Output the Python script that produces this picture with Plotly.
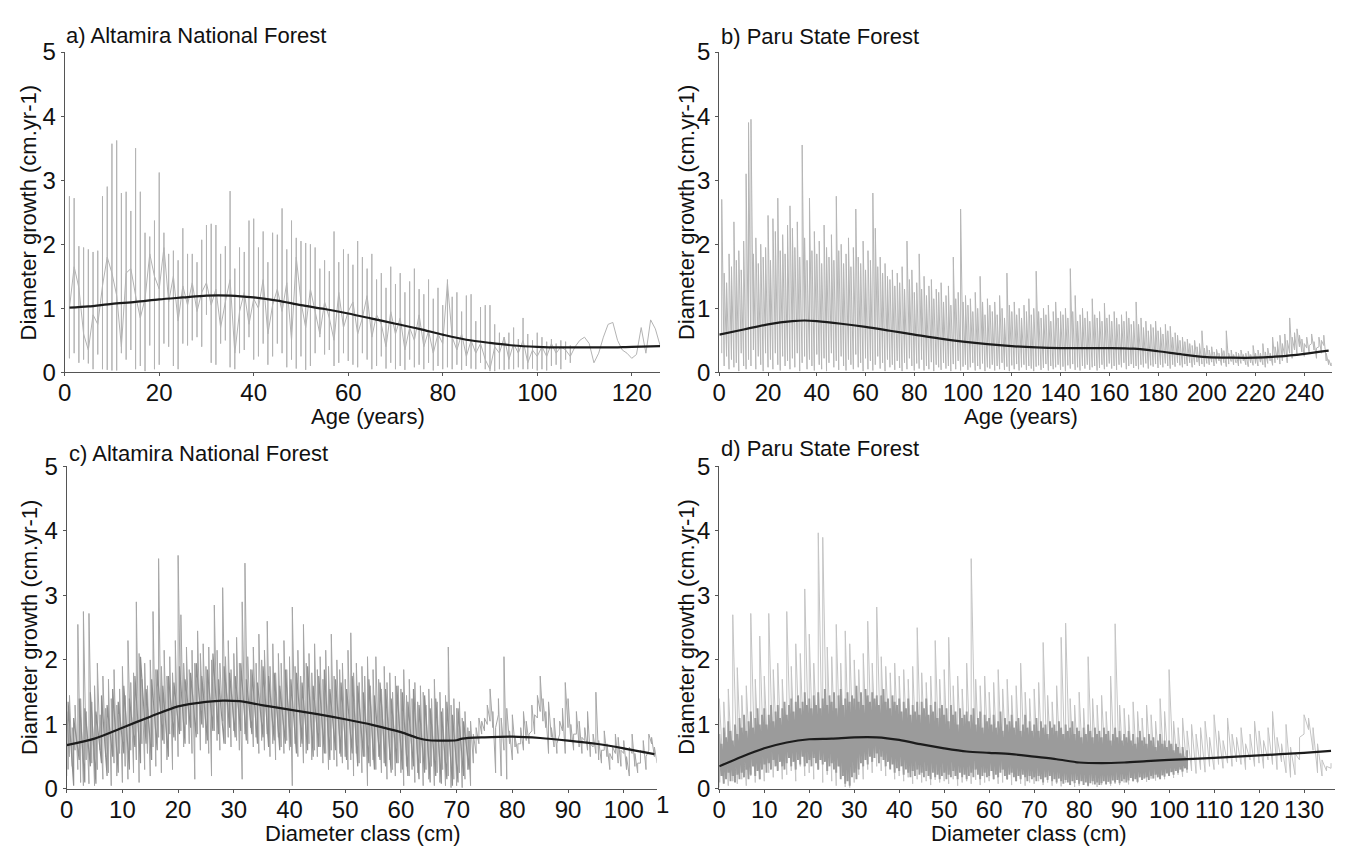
import plotly.graph_objects as go

FONT = "Liberation Sans, Arial, sans-serif"
W, H = 1348, 862

# ---------------- a) Altamira National Forest : growth by age ----------------
age_a = list(range(1, 127))
a_high = [
    2.75, 2.72, 1.97, 1.95, 1.92, 1.88, 1.90, 2.75, 2.90, 3.57,
    3.62, 2.80, 2.82, 2.52, 3.50, 2.82, 2.18, 2.12, 2.37, 3.12,
    2.18, 1.85, 1.90, 1.75, 2.25, 1.85, 1.85, 1.72, 2.07, 2.30,
    2.32, 2.30, 1.85, 1.97, 2.83, 1.62, 1.95, 1.88, 2.37, 2.40,
    1.95, 2.20, 1.72, 2.18, 2.15, 2.56, 1.92, 2.37, 2.10, 2.05,
    2.02, 2.00, 1.95, 1.62, 1.75, 1.58, 2.20, 1.72, 1.92, 1.85,
    1.68, 2.05, 1.80, 1.62, 1.85, 1.45, 1.55, 1.32, 1.65, 1.38,
    1.55, 1.25, 1.42, 1.62, 1.30, 1.22, 1.45, 1.15, 1.32, 1.05,
    1.45, 1.18, 1.25, 0.95, 1.20, 1.22, 0.80, 1.02, 1.05, 1.05,
    0.75, 0.62, 0.55, 0.62, 0.70, 0.52, 0.85, 0.60, 0.50, 0.62,
    0.55, 0.48, 0.52, 0.45, 0.50, 0.48, 0.42, 0.40, 0.50, 0.55,
    0.45, 0.15, 0.30, 0.55, 0.75, 0.78, 0.50, 0.35, 0.30, 0.22,
    0.28, 0.70, 0.30, 0.82, 0.68, 0.42,
]
a_low = [
    0.22, 0.30, 0.15, 0.20, 0.14, 0.05, 0.28, 0.05, 0.04, 0.03,
    0.03, 0.30, 0.20, 0.35, 0.05, 0.10, 0.02, 0.42, 0.05, 0.12,
    0.45, 0.40, 0.10, 0.05, 0.45, 0.42, 0.50, 0.55, 0.40, 0.90,
    0.15, 0.12, 0.45, 0.50, 0.08, 0.05, 0.30, 0.35, 0.55, 0.20,
    0.25, 0.45, 0.12, 0.25, 0.45, 0.30, 0.08, 0.20, 0.06, 0.25,
    0.04, 0.10, 0.30, 0.55, 0.28, 0.35, 0.10, 0.15, 0.30, 0.18,
    0.12, 0.08, 0.30, 0.20, 0.05, 0.10, 0.25, 0.06, 0.15, 0.05,
    0.10, 0.04, 0.20, 0.08, 0.12, 0.05, 0.15, 0.03, 0.10, 0.05,
    0.08, 0.05, 0.12, 0.04, 0.10, 0.06, 0.05, 0.15, 0.05, 0.02,
    0.02, 0.05, 0.04, 0.05, 0.05, 0.08, 0.05, 0.05, 0.06, 0.03,
    0.05, 0.03, 0.10, 0.12, 0.05, 0.20, 0.15, 0.40, 0.50, 0.55,
    0.45, 0.15, 0.30, 0.55, 0.75, 0.78, 0.50, 0.35, 0.30, 0.22,
    0.28, 0.70, 0.30, 0.82, 0.68, 0.42,
]
a_mid = [
    1.00, 1.65, 1.32, 0.60, 0.35, 0.90, 0.75, 1.35, 1.80, 1.55,
    1.20, 0.40, 1.55, 1.62, 1.20, 0.85, 1.15, 1.85, 1.50, 1.30,
    1.95, 1.10, 1.50, 0.80, 1.35, 1.05, 1.40, 0.95, 1.25, 1.40,
    1.05, 1.30, 0.70, 1.10, 1.45, 0.30, 0.95, 1.25, 0.75, 1.15,
    1.00, 1.45, 0.60, 1.05, 1.30, 0.95, 1.40, 0.50, 1.80, 1.10,
    0.70, 1.30, 0.95, 0.60, 1.10, 0.85, 0.50, 1.25, 0.70, 0.95,
    1.10, 0.60, 0.85, 1.20, 0.55, 0.90, 0.75, 0.40, 0.95, 0.60,
    0.85, 0.35, 0.70, 0.50, 0.90, 0.40, 0.65, 0.30, 0.60, 0.45,
    1.40, 0.55, 0.35, 0.60, 0.25, 0.50, 0.30, 0.45, 0.20, 0.05,
    0.40, 0.30, 0.55, 0.20, 0.45, 0.30, 0.50, 0.15, 0.35, 0.25,
    0.40, 0.25, 0.45, 0.30, 0.40, 0.35, 0.25, 0.40, 0.50, 0.55,
    0.45, 0.15, 0.30, 0.55, 0.75, 0.78, 0.50, 0.35, 0.30, 0.22,
    0.28, 0.70, 0.30, 0.82, 0.68, 0.42,
]
a_trend_x = [1, 5, 10, 15, 20, 25, 30, 35, 40, 45, 50, 55, 60, 65, 70, 75,
             80, 85, 90, 95, 100, 105, 110, 115, 120, 126]
a_trend_y = [1.01, 1.03, 1.07, 1.10, 1.14, 1.17, 1.20, 1.20, 1.17, 1.12, 1.05,
             0.99, 0.92, 0.84, 0.76, 0.68, 0.59, 0.51, 0.46, 0.42, 0.40, 0.39,
             0.39, 0.39, 0.40, 0.41]

# ---------------- b) Paru State Forest : growth by age ----------------
age_b = list(range(1, 252))
b_high = [
    2.70, 1.55, 1.40, 1.85, 1.65, 2.35, 1.75, 1.90, 1.60, 2.05,
    3.10, 3.90, 3.95, 1.85, 2.10, 1.70, 2.00, 1.80, 1.95, 2.45,
    1.75, 2.40, 2.20, 2.72, 1.90, 2.15, 1.85, 2.30, 2.60, 2.25,
    1.95, 2.35, 1.80, 3.55, 2.10, 1.75, 2.72, 1.90, 2.20, 1.85,
    2.05, 1.70, 2.30, 1.95, 1.80, 2.15, 1.75, 2.75, 1.90, 2.00,
    1.70, 1.85, 2.10, 1.65, 1.95, 2.55, 1.80, 1.70, 2.05, 1.60,
    1.90, 1.75, 2.80, 2.25, 1.65, 1.80, 1.55, 1.70, 1.50, 1.45,
    1.60, 1.35, 1.55, 1.40, 1.65, 1.30, 2.05, 1.45, 1.60, 1.25,
    1.40, 1.85, 1.30, 1.50, 1.20, 1.35, 1.45, 1.15, 1.30, 1.25,
    1.40, 1.10, 1.20, 1.35, 1.05, 1.80, 1.15, 1.25, 2.55, 1.10,
    1.20, 1.05, 1.15, 0.95, 1.25, 1.00, 1.50, 1.10, 0.90, 1.15,
    1.05, 0.95, 1.10, 0.90, 1.20, 1.00, 0.85, 1.55, 1.05, 0.95,
    1.10, 0.90, 1.00, 0.85, 1.05, 0.95, 1.15, 0.90, 1.00, 1.58,
    0.95, 0.85, 1.00, 0.90, 1.05, 0.80, 0.95, 1.10, 0.85, 0.95,
    0.90, 1.00, 0.85, 1.62, 0.95, 1.20, 0.80, 0.90, 1.00, 0.85,
    0.95, 0.80, 1.15, 0.90, 0.85, 0.95, 0.80, 1.08, 0.85, 0.90,
    0.80, 0.95, 0.85, 0.75, 0.90, 0.80, 0.95, 0.85, 0.75, 0.80,
    1.10, 0.75, 0.85, 0.70, 0.80, 0.65, 0.75, 0.70, 0.80, 0.65,
    0.70, 0.60, 0.75, 0.65, 0.72, 0.55, 0.62, 0.58, 0.50, 0.55,
    0.48, 0.52, 0.45, 0.42, 0.50, 0.40, 0.45, 0.65, 0.38, 0.42,
    0.35, 0.40, 0.32, 0.36, 0.30, 0.38, 0.34, 0.65, 0.30, 0.35,
    0.28, 0.32, 0.30, 0.35, 0.28, 0.30, 0.33, 0.28, 0.42, 0.30,
    0.35, 0.30, 0.45, 0.32, 0.38, 0.30, 0.55, 0.40, 0.48, 0.58,
    0.45, 0.60, 0.50, 0.85, 0.55, 0.62, 0.68, 0.58, 0.52, 0.45,
    0.55, 0.42, 0.60, 0.48, 0.38, 0.55, 0.50, 0.58, 0.30, 0.20,
    0.15,
]
b_low = [
    0.30, 0.10, 0.25, 0.05, 0.20, 0.08, 0.15, 0.02, 0.30, 0.10,
    0.05, 0.20, 0.10, 0.35, 0.05, 0.25, 0.12, 0.02, 0.30, 0.08,
    0.20, 0.05, 0.30, 0.12, 0.03, 0.25, 0.10, 0.18, 0.05, 0.22,
    0.08, 0.30, 0.02, 0.15, 0.25, 0.05, 0.20, 0.10, 0.03, 0.28,
    0.12, 0.05, 0.22, 0.02, 0.15, 0.30, 0.08, 0.18, 0.04, 0.25,
    0.10, 0.03, 0.20, 0.12, 0.05, 0.28, 0.08, 0.15, 0.02, 0.22,
    0.05, 0.18, 0.03, 0.12, 0.25, 0.06, 0.15, 0.02, 0.20, 0.08,
    0.12, 0.04, 0.18, 0.07, 0.02, 0.15, 0.05, 0.22, 0.10, 0.03,
    0.14, 0.06, 0.20, 0.03, 0.10, 0.05, 0.16, 0.02, 0.12, 0.08,
    0.04, 0.15, 0.06, 0.10, 0.02, 0.13, 0.05, 0.18, 0.03, 0.09,
    0.12, 0.04, 0.08, 0.15, 0.03, 0.10, 0.05, 0.14, 0.02, 0.08,
    0.06, 0.12, 0.03, 0.10, 0.05, 0.15, 0.04, 0.09, 0.02, 0.11,
    0.05, 0.13, 0.03, 0.08, 0.12, 0.04, 0.10, 0.06, 0.02, 0.09,
    0.11, 0.04, 0.07, 0.13, 0.03, 0.10, 0.05, 0.08, 0.12, 0.04,
    0.09, 0.02, 0.11, 0.06, 0.13, 0.04, 0.08, 0.03, 0.10, 0.06,
    0.12, 0.04, 0.08, 0.10, 0.03, 0.07, 0.12, 0.05, 0.09, 0.14,
    0.06, 0.10, 0.04, 0.12, 0.08, 0.15, 0.05, 0.10, 0.13, 0.07,
    0.10, 0.05, 0.12, 0.08, 0.14, 0.06, 0.11, 0.09, 0.13, 0.07,
    0.12, 0.08, 0.14, 0.10, 0.06, 0.12, 0.09, 0.15, 0.11, 0.08,
    0.13, 0.10, 0.15, 0.08, 0.12, 0.16, 0.10, 0.13, 0.09, 0.14,
    0.12, 0.16, 0.10, 0.14, 0.18, 0.11, 0.15, 0.09, 0.13, 0.17,
    0.12, 0.15, 0.10, 0.14, 0.18, 0.12, 0.09, 0.15, 0.11, 0.14,
    0.10, 0.16, 0.12, 0.08, 0.14, 0.18, 0.11, 0.15, 0.20, 0.13,
    0.18, 0.25, 0.15, 0.30, 0.22, 0.35, 0.28, 0.40, 0.32, 0.25,
    0.38, 0.30, 0.45, 0.35, 0.22, 0.40, 0.30, 0.42, 0.18, 0.12,
    0.10,
]
b_trend_x = [0, 10, 20, 30, 35, 40, 50, 60, 70, 80, 90, 100, 110, 120, 130,
             140, 150, 160, 170, 180, 190, 200, 210, 220, 230, 240, 250]
b_trend_y = [0.59, 0.67, 0.75, 0.80, 0.81, 0.80, 0.76, 0.71, 0.65, 0.59, 0.53,
             0.48, 0.44, 0.41, 0.39, 0.38, 0.38, 0.38, 0.37, 0.33, 0.28, 0.24,
             0.23, 0.23, 0.25, 0.29, 0.34]

# ---------------- c) Altamira National Forest : growth by diameter class ----------------
diam_c = [i * 0.5 for i in range(213)]   # 0 ... 106 cm
c_high = [
    1.20, 1.45, 0.95, 1.30, 2.55, 1.40, 2.75, 1.20, 2.72, 1.35,
    1.60, 1.95, 1.15, 1.75, 1.25, 1.70, 1.40, 1.85, 1.30, 1.55,
    1.90, 1.45, 2.30, 1.65, 1.80, 2.90, 2.10, 1.70, 1.95, 1.60,
    2.00, 2.75, 1.85, 3.57, 1.90, 2.15, 1.75, 2.05, 1.80, 2.30,
    3.62, 2.70, 1.95, 2.20, 1.85, 2.15, 1.95, 2.45, 2.10, 2.25,
    1.90, 2.20, 2.00, 2.85, 2.15, 1.95, 3.12, 2.05, 2.30, 1.85,
    2.10, 2.35, 1.95, 2.90, 3.50, 2.05, 1.85, 2.20, 1.95, 2.40,
    2.00, 2.15, 2.60, 1.90, 2.25, 1.80, 2.10, 1.95, 2.30, 1.85,
    2.05, 2.82, 1.90, 2.15, 1.75, 2.55, 1.95, 2.10, 1.80, 2.25,
    1.85, 2.05, 1.70, 2.15, 1.90, 2.40, 1.75, 2.00, 1.85, 1.95,
    1.70, 2.15, 2.42, 1.80, 1.95, 1.65, 1.90, 1.75, 2.05, 1.60,
    1.85, 2.05, 1.70, 1.55, 1.90, 1.65, 1.80, 1.50, 1.75, 1.60,
    1.55, 1.85, 1.45, 1.70, 1.40, 1.65, 1.35, 1.60, 1.50, 1.30,
    1.55, 1.40, 1.70, 1.35, 1.50, 1.25, 1.45, 2.20, 1.30, 1.40,
    1.25, 1.35, 1.10, 1.20, 0.95, 1.05, 0.85, 0.95, 1.10, 1.05,
    1.10, 1.30, 1.55, 1.20, 0.95, 1.40, 1.10, 2.05, 1.25, 0.90,
    1.15, 0.80, 0.70, 0.95, 1.20, 1.05, 0.85, 1.30, 1.15, 1.45,
    1.75, 1.40, 1.20, 1.35, 0.95, 1.10, 0.70, 1.05, 1.25, 1.65,
    1.40, 1.00, 0.85, 1.20, 1.05, 0.80, 0.95, 1.20, 0.70, 0.85,
    1.50, 0.75, 0.60, 0.90, 0.70, 0.55, 0.65, 0.85, 0.80, 0.60,
    0.75, 0.50, 0.65, 0.85, 0.55, 0.40, 0.60, 0.75, 0.50, 0.85,
    0.80, 0.65, 0.45,
]
c_low = [
    0.20, 0.50, 0.35, 0.60, 0.30, 0.10, 0.05, 0.45, 0.08, 0.40,
    0.05, 0.30, 0.60, 0.15, 0.50, 0.25, 0.05, 0.40, 0.20, 0.55,
    0.10, 0.35, 0.15, 0.60, 0.25, 0.45, 0.10, 0.70, 0.30, 0.55,
    0.20, 0.65, 0.35, 0.80, 0.25, 0.70, 0.45, 0.85, 0.30, 0.75,
    0.50, 0.90, 0.65, 1.00, 0.70, 0.55, 0.15, 0.85, 0.60, 0.95,
    0.70, 0.55, 0.20, 0.90, 0.75, 0.60, 1.05, 0.70, 0.80, 0.65,
    0.90, 0.75, 0.60, 0.15, 0.85, 0.70, 0.95, 0.65, 0.80, 0.55,
    0.75, 0.60, 0.85, 0.50, 0.70, 0.45, 0.80, 0.65, 0.55, 0.75,
    0.60, 0.05, 0.70, 0.50, 0.65, 0.40, 0.55, 0.70, 0.45, 0.60,
    0.50, 0.65, 0.40, 0.55, 0.30, 0.60, 0.45, 0.35, 0.55, 0.40,
    0.50, 0.30, 0.45, 0.20, 0.55, 0.40, 0.25, 0.50, 0.05, 0.35,
    0.45, 0.30, 0.50, 0.25, 0.40, 0.15, 0.45, 0.30, 0.20, 0.40,
    0.25, 0.05, 0.35, 0.20, 0.30, 0.10, 0.25, 0.40, 0.05, 0.30,
    0.15, 0.35, 0.05, 0.25, 0.10, 0.30, 0.05, 0.20, 0.02, 0.15,
    0.05, 0.25, 0.02, 0.15, 0.30, 0.05, 0.40, 0.55, 0.70, 0.85,
    0.90, 1.00, 1.05, 0.95, 0.25, 1.15, 0.20, 0.60, 0.15, 0.70,
    0.45, 0.65, 0.55, 0.70, 0.60, 0.75, 0.70, 0.90, 0.85, 1.10,
    1.20, 1.05, 0.95, 0.55, 0.80, 0.65, 0.55, 0.85, 0.90, 0.55,
    0.95, 0.75, 0.60, 0.85, 0.65, 0.55, 0.75, 0.60, 0.50, 0.65,
    0.55, 0.45, 0.40, 0.60, 0.50, 0.30, 0.45, 0.55, 0.40, 0.35,
    0.55, 0.30, 0.20, 0.55, 0.35, 0.25, 0.40, 0.55, 0.30, 0.60,
    0.70, 0.50, 0.40,
]
# denser central band of the Altamira diameter series (0.25 ... 72.25 cm)
diam_c_core = [0.25 + i for i in range(73)]
c_core_high = [
    1.35, 1.10, 1.40, 1.25, 1.50, 1.20, 1.45, 1.30, 1.55, 1.35,
    1.60, 1.40, 1.75, 2.05, 1.55, 1.70, 1.85, 1.60, 1.75, 1.65,
    1.90, 1.70, 1.80, 1.95, 1.75, 1.85, 2.10, 1.70, 1.90, 1.80,
    1.75, 1.95, 1.70, 1.85, 1.65, 1.90, 1.75, 1.80, 1.60, 1.85,
    1.70, 1.80, 1.65, 1.90, 1.60, 1.75, 1.85, 1.55, 1.70, 1.65,
    1.55, 1.75, 1.60, 1.50, 1.70, 1.45, 1.65, 1.55, 1.40, 1.60,
    1.50, 1.35, 1.55, 1.30, 1.45, 1.25, 1.40, 1.20, 1.35, 1.15,
    1.25, 1.05, 0.90,
]
c_core_low = [
    0.30, 0.05, 0.45, 0.10, 0.35, 0.08, 0.40, 0.20, 0.50, 0.25,
    0.55, 0.30, 0.65, 0.40, 0.70, 0.45, 0.60, 0.75, 0.50, 0.80,
    0.85, 0.70, 0.95, 0.80, 1.00, 0.75, 0.90, 0.85, 0.70, 0.95,
    0.80, 0.90, 0.75, 0.85, 0.70, 0.80, 0.65, 0.75, 0.60, 0.70,
    0.65, 0.55, 0.70, 0.60, 0.50, 0.65, 0.55, 0.45, 0.60, 0.50,
    0.45, 0.55, 0.35, 0.50, 0.40, 0.30, 0.45, 0.35, 0.25, 0.40,
    0.30, 0.20, 0.35, 0.15, 0.25, 0.10, 0.20, 0.08, 0.15, 0.05,
    0.10, 0.20, 0.30,
]
c_trend_x = [0, 5, 10, 15, 20, 25, 28, 31, 35, 40, 45, 50, 55, 60, 63, 65,
             70, 71, 75, 80, 85, 90, 95, 100, 105.5]
c_trend_y = [0.68, 0.78, 0.95, 1.12, 1.28, 1.35, 1.37, 1.36, 1.30, 1.23, 1.16,
             1.08, 0.99, 0.88, 0.79, 0.755, 0.755, 0.78, 0.80, 0.81, 0.79,
             0.75, 0.70, 0.63, 0.54]

# ---------------- d) Paru State Forest : growth by diameter class ----------------
diam_d = list(range(137))                  # every 1 cm, full range
d_high = [
    1.40, 1.35, 1.55, 2.70, 1.88, 1.45, 1.60, 2.72, 1.70, 2.37,
    1.75, 2.72, 1.85, 1.95, 1.70, 2.75, 1.90, 2.25, 2.10, 3.10,
    2.40, 1.95, 3.97, 3.90, 2.20, 2.05, 2.55, 1.95, 2.45, 2.25,
    2.00, 1.85, 2.10, 2.60, 1.95, 2.82, 2.05, 1.90, 1.80, 1.95,
    1.75, 1.85, 1.70, 1.90, 2.50, 1.80, 1.65, 1.75, 2.30, 1.70,
    1.85, 2.35, 1.60, 1.75, 1.55, 1.95, 3.57, 1.70, 1.60, 1.75,
    1.50, 1.65, 1.85, 1.55, 1.70, 1.45, 1.60, 1.95, 1.50, 1.40,
    1.55, 1.65, 2.27, 1.45, 1.35, 1.60, 2.35, 2.57, 1.40, 1.30,
    1.50, 1.25, 2.05, 1.40, 1.30, 1.45, 1.20, 1.75, 2.56, 1.30,
    1.25, 1.15, 1.35, 1.20, 1.10, 1.30, 1.15, 1.05, 1.40, 1.20,
    1.85, 1.05, 0.95, 1.10, 0.90, 1.00, 0.85, 0.95, 1.05, 0.80,
    1.15, 0.90, 0.75, 1.10, 0.85, 0.80, 0.95, 0.70, 0.85, 1.05,
    0.90, 0.75, 0.95, 1.20, 0.80, 0.70, 1.00, 0.65, 0.55, 0.80,
    1.15, 1.10, 0.95, 0.70, 0.45, 0.35, 0.40,
]
d_low = [
    0.02, 0.10, 0.05, 0.12, 0.08, 0.15, 0.05, 0.20, 0.10, 0.15,
    0.12, 0.25, 0.18, 0.30, 0.15, 0.22, 0.28, 0.12, 0.35, 0.20,
    0.25, 0.15, 0.30, 0.10, 0.22, 0.12, 0.05, 0.18, 0.03, 0.02,
    0.10, 0.22, 0.15, 0.30, 0.25, 0.35, 0.28, 0.20, 0.32, 0.15,
    0.20, 0.12, 0.18, 0.08, 0.15, 0.10, 0.12, 0.06, 0.14, 0.10,
    0.12, 0.08, 0.15, 0.05, 0.10, 0.12, 0.08, 0.14, 0.06, 0.10,
    0.12, 0.15, 0.08, 0.10, 0.14, 0.06, 0.12, 0.08, 0.05, 0.10,
    0.08, 0.12, 0.06, 0.10, 0.05, 0.08, 0.04, 0.10, 0.06, 0.03,
    0.05, 0.08, 0.04, 0.07, 0.03, 0.06, 0.09, 0.05, 0.08, 0.06,
    0.10, 0.07, 0.12, 0.09, 0.14, 0.11, 0.16, 0.13, 0.18, 0.15,
    0.20, 0.17, 0.22, 0.19, 0.25, 0.28, 0.24, 0.30, 0.26, 0.35,
    0.30, 0.38, 0.32, 0.40, 0.35, 0.42, 0.38, 0.30, 0.45, 0.35,
    0.40, 0.32, 0.45, 0.38, 0.30, 0.42, 0.25, 0.18, 0.22, 0.45,
    0.85, 0.92, 0.60, 0.25, 0.20, 0.28, 0.32,
]
# dense core of the Paru diameter series, every 0.5 cm up to 104 cm
diam_d_core = [i * 0.5 for i in range(209)]
d_core_high = [
    0.85, 0.70, 0.95, 0.80, 1.05, 0.90, 0.75, 1.00, 0.85, 1.10,
    0.95, 1.15, 0.90, 1.05, 1.20, 0.95, 1.10, 1.25, 1.00, 1.15,
    1.25, 1.00, 1.15, 1.30, 1.05, 1.20, 1.30, 1.10, 1.25, 1.35,
    1.15, 1.30, 1.40, 1.20, 1.35, 1.45, 1.25, 1.35, 1.50, 1.30,
    1.40, 1.25, 1.45, 1.30, 1.50, 1.25, 1.40, 1.55, 1.30, 1.45,
    1.35, 1.50, 1.25, 1.45, 1.55, 1.30, 1.40, 1.50, 1.35, 1.45,
    1.40, 1.60, 1.35, 1.50, 1.30, 1.55, 1.45, 1.35, 1.50, 1.40,
    1.45, 1.30, 1.45, 1.55, 1.35, 1.40, 1.25, 1.45, 1.35, 1.30,
    1.40, 1.20, 1.35, 1.25, 1.40, 1.15, 1.30, 1.20, 1.35, 1.15,
    1.35, 1.25, 1.40, 1.15, 1.30, 1.20, 1.35, 1.10, 1.25, 1.30,
    1.15, 1.25, 1.05, 1.30, 1.15, 1.20, 1.00, 1.25, 1.10, 1.15,
    1.20, 1.05, 1.15, 1.25, 1.00, 1.10, 1.20, 0.95, 1.15, 1.05,
    1.10, 1.00, 1.15, 0.95, 1.05, 1.20, 0.90, 1.10, 1.00, 1.05,
    1.15, 0.95, 1.05, 1.10, 0.90, 1.00, 1.15, 0.95, 1.05, 0.90,
    1.00, 1.10, 0.90, 1.05, 0.95, 1.00, 0.85, 1.05, 0.95, 1.00,
    0.90, 1.05, 0.95, 0.85, 1.00, 0.90, 0.95, 1.05, 0.85, 0.95,
    0.90, 0.80, 0.95, 0.85, 1.00, 0.90, 0.80, 0.95, 0.85, 0.90,
    0.80, 0.95, 0.85, 0.90, 0.75, 0.85, 0.95, 0.80, 0.90, 0.75,
    0.85, 0.80, 0.90, 0.75, 0.85, 0.70, 0.80, 0.90, 0.75, 0.80,
    0.70, 0.85, 0.75, 0.80, 0.65, 0.75, 0.85, 0.70, 0.75, 0.65,
    0.75, 0.70, 0.60, 0.70, 0.65, 0.55, 0.65, 0.50, 0.60,
]
d_core_low = [
    0.10, 0.20, 0.08, 0.15, 0.25, 0.12, 0.20, 0.10, 0.22, 0.15,
    0.25, 0.18, 0.30, 0.15, 0.22, 0.35, 0.20, 0.28, 0.15, 0.30,
    0.38, 0.25, 0.40, 0.30, 0.45, 0.35, 0.28, 0.42, 0.35, 0.30,
    0.40, 0.48, 0.35, 0.42, 0.30, 0.45, 0.38, 0.50, 0.35, 0.40,
    0.45, 0.35, 0.48, 0.40, 0.30, 0.45, 0.38, 0.42, 0.28, 0.35,
    0.40, 0.30, 0.25, 0.35, 0.15, 0.20, 0.08, 0.12, 0.05, 0.18,
    0.25, 0.15, 0.30, 0.40, 0.35, 0.45, 0.38, 0.50, 0.42, 0.48,
    0.55, 0.40, 0.50, 0.45, 0.35, 0.42, 0.30, 0.38, 0.25, 0.32,
    0.28, 0.35, 0.22, 0.30, 0.25, 0.18, 0.28, 0.20, 0.30, 0.22,
    0.25, 0.18, 0.28, 0.20, 0.15, 0.25, 0.18, 0.22, 0.15, 0.20,
    0.25, 0.15, 0.22, 0.18, 0.28, 0.20, 0.15, 0.25, 0.18, 0.22,
    0.15, 0.20, 0.25, 0.18, 0.30, 0.22, 0.15, 0.20, 0.25, 0.18,
    0.20, 0.28, 0.15, 0.22, 0.18, 0.25, 0.30, 0.20, 0.15, 0.22,
    0.25, 0.18, 0.12, 0.20, 0.15, 0.22, 0.18, 0.12, 0.20, 0.15,
    0.18, 0.12, 0.20, 0.15, 0.10, 0.18, 0.14, 0.20, 0.12, 0.15,
    0.10, 0.16, 0.12, 0.08, 0.14, 0.10, 0.06, 0.12, 0.09, 0.14,
    0.08, 0.12, 0.06, 0.10, 0.05, 0.09, 0.12, 0.07, 0.10, 0.06,
    0.09, 0.12, 0.07, 0.11, 0.08, 0.13, 0.10, 0.14, 0.09, 0.12,
    0.15, 0.10, 0.13, 0.17, 0.12, 0.15, 0.11, 0.18, 0.14, 0.16,
    0.18, 0.14, 0.20, 0.16, 0.22, 0.18, 0.15, 0.21, 0.19, 0.24,
    0.20, 0.26, 0.22, 0.28, 0.25, 0.30, 0.27, 0.32, 0.30,
]
d_trend_x = [0, 5, 10, 15, 20, 25, 30, 35, 40, 45, 50, 55, 60, 65, 70, 75,
             80, 85, 90, 95, 100, 110, 120, 130, 136]
d_trend_y = [0.35, 0.50, 0.63, 0.72, 0.77, 0.78, 0.80, 0.80, 0.76, 0.69, 0.63,
             0.58, 0.56, 0.54, 0.50, 0.46, 0.41, 0.40, 0.41, 0.43, 0.45, 0.48,
             0.52, 0.56, 0.59]


def span_path(xs, lows, highs):
    """Vertical low-high strokes joined into one continuous polyline."""
    px, py = [], []
    for x, lo, hi in zip(xs, lows, highs):
        px += [x, x]
        py += [lo, hi]
    return px, py


def span_path_mid(xs, mids, highs, lows):
    """Per-age strokes that start and end on the mid value, so the joins zigzag."""
    px, py = [], []
    for x, m, hi, lo in zip(xs, mids, highs, lows):
        px += [x, x, x, x]
        py += [m, hi, lo, m]
    return px, py


fig = go.Figure()

TREND = dict(color="#1c1c1c", width=2.2, shape="spline", smoothing=0.8)

# panel a
px, py = span_path_mid(age_a, a_mid, a_high, a_low)
fig.add_trace(go.Scatter(x=px, y=py, mode="lines", xaxis="x", yaxis="y",
                         line=dict(color="#b3b3b3", width=1)))
fig.add_trace(go.Scatter(x=a_trend_x, y=a_trend_y, mode="lines", xaxis="x",
                         yaxis="y", line=TREND))

# panel b
px, py = span_path(age_b, b_low, b_high)
fig.add_trace(go.Scatter(x=px, y=py, mode="lines", xaxis="x2", yaxis="y2",
                         line=dict(color="#b6b6b6", width=1)))
fig.add_trace(go.Scatter(x=b_trend_x, y=b_trend_y, mode="lines", xaxis="x2",
                         yaxis="y2", line=TREND))

# panel c
px, py = span_path(diam_c, c_low, c_high)
fig.add_trace(go.Scatter(x=px, y=py, mode="lines", xaxis="x3", yaxis="y3",
                         line=dict(color="#a6a6a6", width=1)))
px, py = span_path(diam_c_core, c_core_low, c_core_high)
fig.add_trace(go.Scatter(x=px, y=py, mode="lines", xaxis="x3", yaxis="y3",
                         line=dict(color="#8e8e8e", width=1.2)))
fig.add_trace(go.Scatter(x=c_trend_x, y=c_trend_y, mode="lines", xaxis="x3",
                         yaxis="y3", line=TREND))

# panel d
px, py = span_path(diam_d, d_low, d_high)
fig.add_trace(go.Scatter(x=px, y=py, mode="lines", xaxis="x4", yaxis="y4",
                         line=dict(color="#c4c4c4", width=1)))
px, py = span_path(diam_d_core, d_core_low, d_core_high)
fig.add_trace(go.Scatter(x=px, y=py, mode="lines", xaxis="x4", yaxis="y4",
                         line=dict(color="#9b9b9b", width=1.9)))
fig.add_trace(go.Scatter(x=d_trend_x, y=d_trend_y, mode="lines", xaxis="x4",
                         yaxis="y4", line=TREND))


def px_x(v):
    return v / W


def px_y(v):
    return 1 - v / H


AXIS_COMMON = dict(
    showline=True, linecolor="#555555", linewidth=1, showgrid=False,
    zeroline=False, ticks="outside", ticklen=3, tickcolor="#555555",
    tickfont=dict(family=FONT, size=24, color="#111111"),
)

# pixel geometry of the four plotting areas: (left, right, top, bottom)
boxes = {
    "a": (58, 656.5, 39.3, 370),
    "b": (716, 1332, 39.3, 370),
    "c": (60, 653, 467, 800),
    "d": (716, 1335, 467, 800),
}
xranges = {"a": [0, 126], "b": [0, 251.4], "c": [0, 105.9], "d": [0, 136.9]}
xticks = {
    "a": list(range(0, 121, 20)),
    "b": list(range(0, 241, 20)),
    "c": list(range(0, 101, 10)),
    "d": list(range(0, 131, 10)),
}
names = [("a", "xaxis", "yaxis", "y", "x"),
         ("b", "xaxis2", "yaxis2", "y2", "x2"),
         ("c", "xaxis3", "yaxis3", "y3", "x3"),
         ("d", "xaxis4", "yaxis4", "y4", "x4")]

layout_axes = {}
for key, xa, ya, yref, xref in names:
    l, r, t, b = boxes[key]
    layout_axes[xa] = dict(AXIS_COMMON, domain=[px_x(l), px_x(r)], anchor=yref,
                           range=xranges[key], tickvals=xticks[key],
                           ticklabelstandoff=-4)
    layout_axes[ya] = dict(AXIS_COMMON, domain=[px_y(b), px_y(t)], anchor=xref,
                           range=[0, 5], tickvals=[0, 1, 2, 3, 4, 5])

TXT = dict(family=FONT, size=22, color="#111111")
annotations = []
panel_titles = [
    ("a) Altamira National Forest", 57, 22),
    ("b) Paru State Forest", 716, 23),
    ("c) Altamira National Forest", 60, 454),
    ("d) Paru State Forest", 716, 449),
]
for text, x, y in panel_titles:
    annotations.append(dict(text=text, x=px_x(x), y=px_y(y), xref="paper",
                            yref="paper", xanchor="left", yanchor="middle",
                            showarrow=False, font=TXT))

x_titles = [
    ("Age (years)", (58 + 656.5) / 2 + 6, 415),
    ("Age (years)", (716 + 1332) / 2 - 5, 415),
    ("Diameter class (cm)", (60 + 653) / 2 + 1, 846),
    ("Diameter class (cm)", (716 + 1335) / 2 + 2, 846),
]
for text, x, y in x_titles:
    annotations.append(dict(text=text, x=px_x(x), y=px_y(y), xref="paper",
                            yref="paper", xanchor="center", yanchor="middle",
                            showarrow=False, font=TXT))

y_titles = [(22, 205), (683, 205), (22, 633), (683, 633)]
for x, y in y_titles:
    annotations.append(dict(text="Diameter growth (cm.yr-1)", x=px_x(x),
                            y=px_y(y), xref="paper", yref="paper",
                            xanchor="center", yanchor="middle", textangle=-90,
                            showarrow=False, font=TXT))

# first digit of the clipped "110" tick label at the right edge of panel c
annotations.append(dict(text="1", x=px_x(650), y=px_y(816), xref="paper",
                        yref="paper", xanchor="left", yanchor="middle",
                        showarrow=False,
                        font=dict(family=FONT, size=24, color="#111111")))

fig.update_layout(
    width=W, height=H, autosize=False,
    margin=dict(l=0, r=0, t=0, b=0),
    paper_bgcolor="white", plot_bgcolor="white",
    showlegend=False,
    annotations=annotations,
    **layout_axes,
)

fig.write_html("out.html")
